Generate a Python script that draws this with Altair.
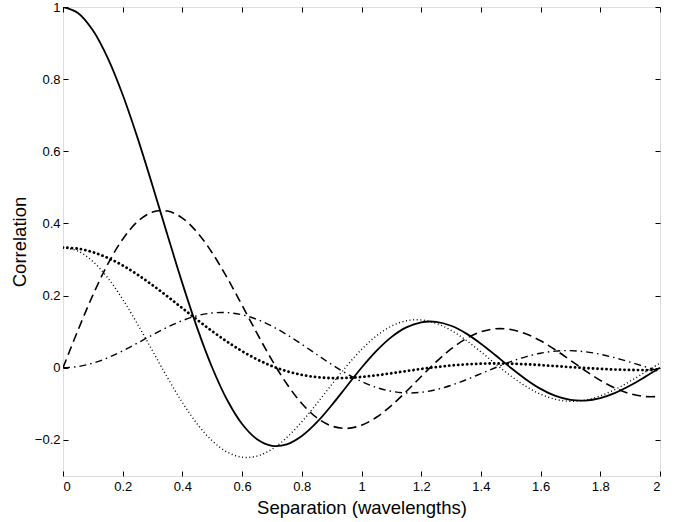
import altair as alt
import pandas as pd

# Separation (wavelengths)
separation = [0, 0.05, 0.1, 0.15, 0.2, 0.25, 0.3, 0.35, 0.4, 0.45, 0.5,
              0.55, 0.6, 0.65, 0.7, 0.75, 0.8, 0.85, 0.9, 0.95, 1.0,
              1.05, 1.1, 1.15, 1.2, 1.25, 1.3, 1.35, 1.4, 1.45, 1.5,
              1.55, 1.6, 1.65, 1.7, 1.75, 1.8, 1.85, 1.9, 1.95, 2.0]

solid = [1.0, 0.9836, 0.9355, 0.8584, 0.7568, 0.6366, 0.5046, 0.3679, 0.2339, 0.1093, 0.0,
         -0.0894, -0.1559, -0.1981, -0.2162, -0.2122, -0.1892, -0.1515, -0.1039, -0.0518, 0.0,
         0.0468, 0.0850, 0.1120, 0.1261, 0.1273, 0.1164, 0.0954, 0.0668, 0.0339, 0.0,
         -0.0317, -0.0585, -0.0780, -0.0890, -0.0909, -0.0841, -0.0696, -0.0492, -0.0252, 0.0]

dashed = [0.0, 0.1037, 0.2013, 0.2871, 0.3564, 0.4053, 0.4316, 0.4346, 0.4150, 0.3750, 0.3183,
          0.2493, 0.1732, 0.0954, 0.0211, -0.0450, -0.0991, -0.1384, -0.1614, -0.1680, -0.1592,
          -0.1371, -0.1047, -0.0659, -0.0243, 0.0162, 0.0521, 0.0805, 0.0996, 0.1081, 0.1061,
          0.0944, 0.0747, 0.0492, 0.0206, -0.0083, -0.0348, -0.0566, -0.0719, -0.0797, -0.0796]

thick_dotted = [0.3333, 0.3301, 0.3204, 0.3047, 0.2836, 0.2580, 0.2290, 0.1976, 0.1651, 0.1326, 0.1013,
                0.0722, 0.0460, 0.0234, 0.0048, -0.0096, -0.0197, -0.0259, -0.0286, -0.0281, -0.0253,
                -0.0208, -0.0152, -0.0091, -0.0032, 0.0021, 0.0064, 0.0095, 0.0113, 0.0119, 0.0113,
                0.0097, 0.0074, 0.0047, 0.0019, -0.0008, -0.0031, -0.0049, -0.0060, -0.0065, -0.0063]

thin_dotted = [0.3333, 0.3235, 0.2948, 0.2491, 0.1897, 0.1206, 0.0466, -0.0273, -0.0963, -0.1560, -0.2026,
               -0.2337, -0.2478, -0.2448, -0.2258, -0.1931, -0.1498, -0.0996, -0.0468, 0.0045, 0.0507,
               0.0884, 0.1154, 0.1302, 0.1326, 0.1232, 0.1037, 0.0764, 0.0442, 0.0102, -0.0225,
               -0.0511, -0.0733, -0.0875, -0.0929, -0.0894, -0.0779, -0.0599, -0.0372, -0.0122, 0.0127]

dash_dot = [0.0, 0.0033, 0.0128, 0.0278, 0.0470, 0.0687, 0.0912, 0.1125, 0.1307, 0.1443, 0.1520,
            0.1529, 0.1469, 0.1341, 0.1153, 0.0918, 0.0650, 0.0369, 0.0091, -0.0163, -0.0380,
            -0.0546, -0.0653, -0.0697, -0.0679, -0.0606, -0.0487, -0.0334, -0.0164, 0.0008, 0.0169,
            0.0304, 0.0404, 0.0461, 0.0474, 0.0443, 0.0374, 0.0275, 0.0156, 0.0029, -0.0095]

x_ticks = [0, 0.2, 0.4, 0.6, 0.8, 1, 1.2, 1.4, 1.6, 1.8, 2]
y_ticks = [-0.2, 0, 0.2, 0.4, 0.6, 0.8, 1]

series = {
    "solid": solid,
    "dashed": dashed,
    "thick_dotted": thick_dotted,
    "thin_dotted": thin_dotted,
    "dash_dot": dash_dot,
}
rows = []
for name, vals in series.items():
    for d, v in zip(separation, vals):
        rows.append({"d": d, "v": v, "series": name})
df = pd.DataFrame(rows)

FONT = "Liberation Sans"
W, H = 597, 469
xscale = alt.Scale(domain=[0, 2], nice=False, zero=False)
yscale = alt.Scale(domain=[-0.3, 1], nice=False, zero=False)

common_axis = dict(grid=False, domain=False, offset=-5, tickSize=5, tickWidth=1,
                   tickColor="black", labelColor="black", labelFont=FONT,
                   labelFontSize=13, titleFont=FONT, titleFontSize=18.5,
                   titleFontWeight="normal", titleColor="black", format="~g")

base = alt.Chart(df)


def curve(name, **kw):
    return base.transform_filter(alt.datum.series == name).mark_line(
        color="black", interpolate="catmull-rom", clip=True, **kw
    ).encode(
        x=alt.X("d:Q", scale=xscale, axis=None),
        y=alt.Y("v:Q", scale=yscale, axis=None),
    )


axes_bl = base.transform_filter(alt.datum.series == "solid").mark_line(opacity=0).encode(
    x=alt.X("d:Q", scale=xscale, title="Separation (wavelengths)",
            axis=alt.Axis(orient="bottom", values=x_ticks, labelPadding=4,
                          titlePadding=5, **common_axis)),
    y=alt.Y("v:Q", scale=yscale, title="Correlation",
            axis=alt.Axis(orient="left", values=y_ticks, labelPadding=3,
                          titlePadding=5, **common_axis)),
)

axes_tr = base.transform_filter(alt.datum.series == "solid").mark_line(opacity=0).encode(
    x=alt.X("d:Q", scale=xscale, title=None,
            axis=alt.Axis(orient="top", values=x_ticks, labels=False, **common_axis)),
    y=alt.Y("v:Q", scale=yscale, title=None,
            axis=alt.Axis(orient="right", values=y_ticks, labels=False, **common_axis)),
)

chart = alt.layer(
    axes_bl,
    axes_tr,
    curve("dash_dot", strokeWidth=1.4, strokeDash=[7, 4, 1.5, 4]),
    curve("dashed", strokeWidth=1.6, strokeDash=[9, 5]),
    curve("thin_dotted", strokeWidth=1.4, strokeDash=[1, 2.6]),
    curve("thick_dotted", strokeWidth=2.8, strokeDash=[0.1, 4.4], strokeCap="round"),
    curve("solid", strokeWidth=1.8),
).resolve_axis(x="independent", y="independent").properties(
    width=W, height=H,
    autosize=alt.AutoSizeParams(type="none"),
    padding={"left": 63, "top": 7, "right": 16, "bottom": 46},
).configure_view(stroke="black", strokeWidth=1.2).configure(background="white")

chart.save("out.html", embed_options={"renderer": "svg", "actions": False})
